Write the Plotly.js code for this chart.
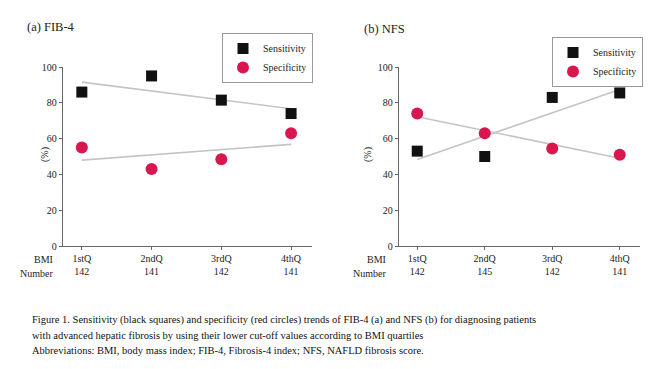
<!DOCTYPE html>
<html><head><meta charset="utf-8">
<script src="https://cdn.plot.ly/plotly-3.0.1.min.js"></script>
<style>body{margin:0;background:#fff}#c{width:669px;height:369px}</style>
</head><body><div id="c"></div>
<script>
const quartiles = ["1stQ", "2ndQ", "3rdQ", "4thQ"];
const numbersFIB4 = [142, 141, 142, 141];
const numbersNFS = [142, 145, 142, 141];
const fib4Sensitivity = [86, 95, 81.5, 74];
const fib4Specificity = [55, 43, 48.5, 63];
const nfsSensitivity = [53, 50, 83, 85.5];
const nfsSpecificity = [74, 63, 54.5, 51];
const yTicks = [0, 20, 40, 60, 80, 100];

const xs = quartiles.map((q, i) => i);
function fit(ys) {
  const n = ys.length, mx = xs.reduce((a, b) => a + b) / n, my = ys.reduce((a, b) => a + b) / n;
  let sxy = 0, sxx = 0;
  xs.forEach((x, i) => { sxy += (x - mx) * (ys[i] - my); sxx += (x - mx) * (x - mx); });
  const b = sxy / sxx, a = my - b * mx;
  return xs.map(x => a + b * x);
}
const serif = "Liberation Serif, Times New Roman, serif";
const black = "#111", red = "#d8174f", grey = "#c4c4c4";
function trend(ys, xa, ya) {
  return {x: xs, y: fit(ys), mode: "lines", line: {color: grey, width: 1.6}, xaxis: xa, yaxis: ya, showlegend: false, hoverinfo: "skip"};
}
function pts(ys, xa, ya, name, sym, col, leg) {
  return {x: xs, y: ys, mode: "markers", name: name, marker: {symbol: sym, size: sym === "square" ? 11 : 12, color: col}, xaxis: xa, yaxis: ya, legend: leg, cliponaxis: false};
}
const data = [
  trend(fib4Sensitivity, "x", "y"), trend(fib4Specificity, "x", "y"),
  trend(nfsSensitivity, "x2", "y2"), trend(nfsSpecificity, "x2", "y2"),
  pts(fib4Sensitivity, "x", "y", "Sensitivity", "square", black, "legend"),
  pts(fib4Specificity, "x", "y", "Specificity", "circle", red, "legend"),
  pts(nfsSensitivity, "x2", "y2", "Sensitivity", "square", black, "legend2"),
  pts(nfsSpecificity, "x2", "y2", "Specificity", "circle", red, "legend2")
];
const tickFont = {family: serif, size: 10, color: "#222"};
function xax(domain, nums, anchor) {
  return {domain: domain, anchor: anchor, range: [-0.27, 3.3], tickvals: xs,
    ticktext: quartiles.map((q, i) => q + "<br>" + nums[i]), showgrid: false, zeroline: false,
    showline: true, linecolor: "#666", linewidth: 1.3, ticks: "outside", ticklen: 3, tickcolor: "#666",
    tickfont: tickFont, fixedrange: true};
}
function yax(domain, anchor) {
  return {domain: domain, anchor: anchor, range: [0, 100], tickvals: yTicks, showgrid: false, zeroline: false,
    showline: true, linecolor: "#666", linewidth: 1.3, ticks: "outside", ticklen: 3, tickcolor: "#666",
    tickfont: tickFont, fixedrange: true};
}
const yd = [1 - 246 / 369, 1 - 67 / 369];
const legendBase = {font: {family: serif, size: 10, color: "#222"}, bordercolor: "#999", borderwidth: 1,
  bgcolor: "#fff", xanchor: "left", yanchor: "top", itemwidth: 30, tracegroupgap: 0};
const ann = (x, y, text, opts) => Object.assign({xref: "paper", yref: "paper", x: x / 669, y: 1 - y / 369,
  text: text, showarrow: false, font: {family: serif, size: 10, color: "#222"}}, opts || {});
const capFont = {family: serif, size: 10.5, color: "#111"};
const layout = {
  width: 669, height: 369, margin: {l: 0, r: 0, t: 0, b: 0}, paper_bgcolor: "#fff", plot_bgcolor: "#fff",
  xaxis: xax([63 / 669, 312 / 669], numbersFIB4, "y"),
  yaxis: yax(yd, "x"),
  xaxis2: xax([399 / 669, 640 / 669], numbersNFS, "y2"),
  yaxis2: yax(yd, "x2"),
  legend: Object.assign({x: 222 / 669, y: 1 - 33 / 369}, legendBase),
  legend2: Object.assign({x: 552 / 669, y: 1 - 37 / 369}, legendBase),
  annotations: [
    ann(25, 18, "(a) FIB-4", {xanchor: "left", font: {family: serif, size: 12.5, color: "#222"}}),
    ann(362, 20, "(b) NFS", {xanchor: "left", font: {family: serif, size: 12.5, color: "#222"}}),
    ann(37, 155, "(%)", {textangle: -90}),
    ann(368, 155, "(%)", {textangle: -90}),
    ann(55, 267, "BMI", {xanchor: "right"}),
    ann(55, 281, "Number", {xanchor: "right"}),
    ann(388, 267, "BMI", {xanchor: "right"}),
    ann(388, 281, "Number", {xanchor: "right"}),
    ann(30, 328, "Figure 1. Sensitivity (black squares) and specificity (red circles) trends of FIB-4 (a) and NFS (b) for diagnosing patients", {xanchor: "left", font: capFont}),
    ann(30, 343, "with advanced hepatic fibrosis by using their lower cut-off values according to BMI quartiles", {xanchor: "left", font: capFont}),
    ann(30, 358, "Abbreviations: BMI, body mass index; FIB-4, Fibrosis-4 index; NFS, NAFLD fibrosis score.", {xanchor: "left", font: capFont})
  ]
};
Plotly.newPlot("c", data, layout, {displayModeBar: false, staticPlot: true});
</script></body></html>
